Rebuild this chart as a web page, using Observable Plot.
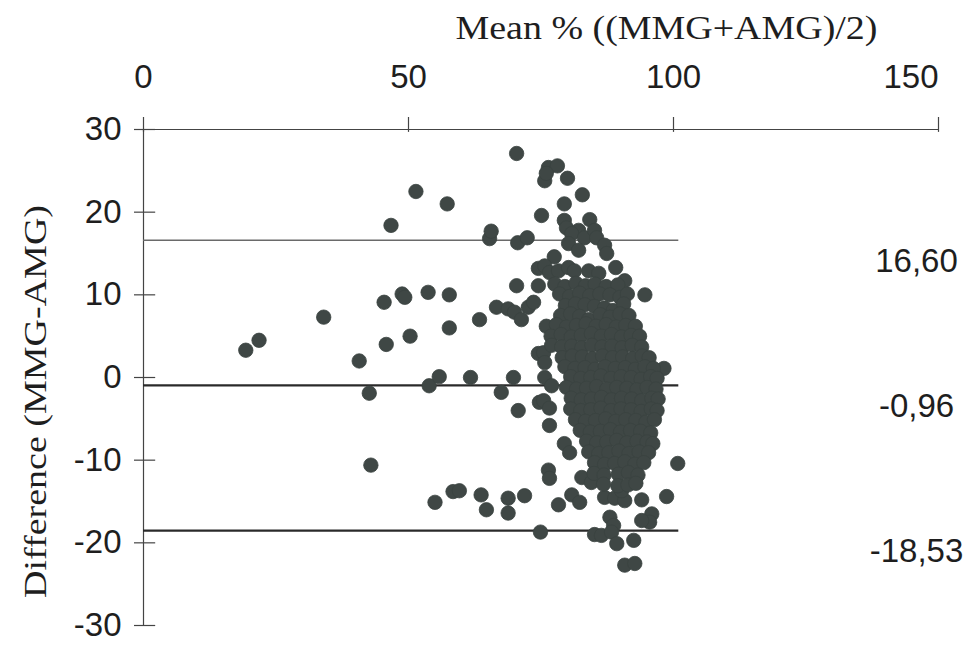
<!DOCTYPE html>
<html>
<head>
<meta charset="utf-8">
<script src="https://cdn.jsdelivr.net/npm/d3@7"></script>
<script src="https://cdn.jsdelivr.net/npm/@observablehq/plot@0.6"></script>
<style>
  html, body { margin: 0; padding: 0; background: #fff; }
  #chart svg { display: block; }
</style>
</head>
<body>
<div id="chart"></div>
<script>
// ---- data ----
const xTitle = "Mean % ((MMG+AMG)/2)";
const yTitle = "Difference (MMG-AMG)";
const xTicks = [0, 50, 100, 150];
const yTicks = [-30, -20, -10, 0, 10, 20, 30];
const upperLimit = [16.60];
const meanAndLower = [-0.96, -18.53];
const limitValues = [16.60, -0.96, -18.53];
const limitLabels = ["16,60", "-0,96", "-18,53"];

// scattered points [mean %, difference]
const scatterPoints = [
  [19.3,3.3],[21.8,4.5],[34.0,7.3],[40.7,2.0],[42.6,-1.9],[42.9,-10.6],[45.4,9.1],[45.8,4.0],
  [46.7,18.4],[48.8,10.1],[49.3,9.7],[50.3,5.0],[51.4,22.5],[53.7,10.3],[53.9,-1.0],[55.0,-15.1],
  [55.8,0.1],[57.3,21.0],[57.7,10.0],[57.7,6.0],[58.4,-13.8],[59.6,-13.7],[61.7,0.0],[63.4,7.0],
  [63.7,-14.2],[64.7,-16.0],[65.3,16.8],[65.6,17.7],[66.6,8.5],[67.5,-1.8],[68.8,8.3],[68.8,-14.6],
  [68.8,-16.4],[69.8,0.0],[70.0,7.9],[70.4,27.1],[70.4,11.1],[70.6,16.3],[70.7,-4.0],[71.3,7.0],
  [71.9,-14.3],[72.4,16.9],[72.6,8.5],[73.6,9.1],[74.5,11.1],[74.5,2.9],[74.7,-3.0],[74.9,-18.7],
  [76.4,25.4],[78.1,25.6],[75.7,23.8],[76.0,24.7],[80.0,24.1],[82.8,22.1],[79.4,21.0],[75.1,19.6],
  [79.4,19.0],[79.8,18.1],[84.2,19.1],[82.1,17.8],[80.8,17.4],[83.2,16.9],[85.1,17.8],[85.5,16.9],
  [80.2,16.2],[82.1,15.4],[87.0,16.0],[87.4,15.0],[77.5,14.6],[89.1,13.3],[74.5,13.2],[75.7,13.5],
  [76.6,12.7],[78.3,12.9],[80.2,13.3],[81.3,12.9],[84.0,12.9],[85.9,12.6],[90.8,11.7],[94.6,10.0],
  [75.5,3.0],[75.7,1.8],[75.7,0.0],[77.0,-1.0],[75.5,-2.8],[76.6,-3.7],[76.6,-5.8],[79.4,-8.0],
  [80.4,-9.1],[76.4,-11.2],[76.6,-12.2],[78.3,-15.4],[80.8,-14.2],[82.3,-15.1],[82.7,-12.1],[84.5,-12.7],
  [87.0,-14.5],[88.9,-14.6],[90.8,-14.9],[90.2,-13.7],[94.0,-14.8],[98.7,-14.4],[100.8,-10.4],[88.0,-16.9],
  [88.7,-17.9],[95.9,-16.5],[95.5,-17.5],[94.0,-17.3],[85.1,-19.0],[86.4,-19.1],[88.3,-18.7],[89.3,-20.1],
  [92.5,-19.7],[90.8,-22.7],[92.7,-22.5],[98.2,1.1]
];

// dense cluster points [mean %, difference]
const clusterPoints = [
  [77.6,11.3],[79.5,11.0],[81.6,11.4],[83.4,11.1],[85.2,11.3],[87.3,11.0],[89.5,11.2],
  [78.5,10.1],[80.4,9.8],[82.3,10.2],[84.2,9.9],[86.1,10.1],[88.0,10.0],[89.9,9.7],[91.3,10.1],
  [79.6,8.7],[81.5,8.9],[83.3,8.8],[85.1,8.6],[87.0,8.4],[88.6,8.1],[90.6,8.9],
  [78.7,7.5],[80.6,7.7],[82.3,7.4],[84.0,7.0],[86.2,7.6],[88.0,7.3],[89.9,7.7],[91.6,7.5],
  [76.0,6.2],[77.9,6.4],[79.8,6.1],[81.7,6.3],[83.5,6.5],[85.4,6.2],[87.3,6.4],[89.2,6.1],[91.0,6.3],[92.8,6.2],
  [76.9,5.0],[78.8,5.2],[80.7,4.9],[82.6,5.1],[84.5,5.3],[86.4,5.0],[88.3,5.2],[90.2,4.9],[92.0,5.1],[93.6,5.0],
  [77.0,3.9],[78.9,3.7],[80.8,3.8],[82.7,3.6],[84.6,3.9],[86.5,3.7],[88.4,3.8],[90.3,3.6],[92.2,3.9],[94.0,3.7],
  [79.0,2.4],[80.9,2.6],[82.8,2.5],[84.7,2.3],[86.6,2.6],[88.5,2.4],[90.4,2.5],[92.3,2.3],[94.1,2.6],[95.4,2.4],
  [79.5,1.3],[81.4,1.1],[83.3,1.2],[85.2,1.0],[87.1,1.3],[89.0,1.1],[90.9,1.2],[92.8,1.0],[94.6,1.3],[96.2,1.1],
  [80.6,0.1],[82.5,-0.1],[84.4,0.0],[86.3,0.2],[88.2,-0.1],[90.1,0.1],[92.0,0.0],[93.9,-0.2],[95.7,0.1],[96.9,-0.1],
  [79.8,-1.2],[81.7,-1.4],[83.6,-1.3],[85.5,-1.1],[87.4,-1.4],[89.3,-1.2],[91.2,-1.3],[93.1,-1.5],[95.0,-1.2],[96.7,-1.4],
  [80.7,-2.5],[82.6,-2.7],[84.5,-2.6],[86.4,-2.4],[88.3,-2.7],[90.2,-2.5],[92.1,-2.6],[94.0,-2.8],[95.9,-2.5],[97.1,-2.6],
  [80.6,-3.8],[82.5,-4.0],[84.4,-3.9],[86.3,-3.7],[88.2,-4.0],[90.1,-3.8],[92.0,-3.9],[93.9,-4.1],[95.8,-3.8],[96.9,-4.0],
  [81.5,-5.1],[83.4,-5.3],[85.3,-5.2],[87.2,-5.0],[89.1,-5.3],[91.0,-5.1],[92.9,-5.2],[94.8,-5.4],[96.4,-5.1],
  [82.4,-6.4],[84.3,-6.6],[86.2,-6.5],[88.1,-6.3],[90.0,-6.6],[91.9,-6.4],[93.8,-6.5],[95.7,-6.7],
  [83.6,-7.7],[85.5,-7.9],[87.4,-7.8],[89.3,-7.6],[91.2,-7.9],[93.1,-7.7],[95.0,-7.8],[96.1,-8.0],
  [84.0,-9.0],[85.9,-9.2],[87.8,-9.1],[89.7,-8.9],[91.6,-9.2],[93.5,-9.0],[95.3,-9.1],
  [85.1,-10.3],[87.0,-10.5],[88.9,-10.4],[90.8,-10.2],[92.7,-10.5],[94.4,-10.3],
  [85.0,-11.6],[86.9,-11.8],[89.6,-11.7],[91.5,-11.5],[93.3,-11.8],
  [86.8,-12.9],[89.5,-13.1],[91.4,-13.0],[92.9,-12.8]
];

const points = scatterPoints.concat(clusterPoints);

// ---- chart ----
const sans = "'Liberation Sans', Arial, sans-serif";
const serif = "'Liberation Serif', 'Times New Roman', serif";
const ink = "#1e1e1e";

const chart = Plot.plot({
  width: 978,
  height: 647,
  marginLeft: 143,
  marginRight: 40,
  marginTop: 129,
  marginBottom: 22,
  style: { background: "#fff", overflow: "visible" },
  x: { domain: [0, 150], axis: null },
  y: { domain: [-30, 30], axis: null },
  marks: [
    // axis lines
    Plot.ruleY([30], { x1: 0, x2: 150, stroke: "#444", strokeWidth: 1.2 }),
    Plot.ruleX([0], { y1: -30, y2: 30, stroke: "#444", strokeWidth: 1.2 }),
    // ticks
    Plot.ruleX(xTicks, { x: d => d, y1: 29.65, y2: 31.45, stroke: "#444", strokeWidth: 1.2 }),
    Plot.ruleY(yTicks, { y: d => d, x1: -1.7, x2: 2.3, stroke: "#444", strokeWidth: 1.2 }),
    // tick labels (last one sits flush with its tick, as in the reference)
    Plot.text(xTicks.slice(0, -1), { x: d => d, text: d => String(d), frameAnchor: "top", lineAnchor: "middle", dy: -52,
      fontSize: 33, fontFamily: sans, fill: ink, textAnchor: "middle" }),
    Plot.text(xTicks.slice(-1), { x: d => d, text: d => String(d), frameAnchor: "top", lineAnchor: "middle", dy: -52,
      fontSize: 33, fontFamily: sans, fill: ink, textAnchor: "end" }),
    Plot.text(yTicks, { y: d => d, text: d => String(d), frameAnchor: "left", lineAnchor: "middle", dx: -22,
      fontSize: 33, fontFamily: sans, fill: ink, textAnchor: "end" }),
    // limit lines
    Plot.ruleY(upperLimit, { x1: 0, x2: 101, stroke: "#6a6a6a", strokeWidth: 1.3 }),
    Plot.ruleY(meanAndLower, { x1: 0, x2: 101, stroke: "#2a2a2a", strokeWidth: 2.2 }),
    // points
    Plot.dot(points, { x: d => d[0], y: d => d[1], r: 7.2, fill: "#3f4745", stroke: "#3a4240", strokeWidth: 0.8 }),
    // limit labels
    Plot.text(limitValues, { y: d => d, text: (d, i) => limitLabels[i], frameAnchor: "right", lineAnchor: "middle",
      dx: -22, dy: 21, fontSize: 33, fontFamily: sans, fill: ink, textAnchor: "middle" }),
    // titles
    Plot.text([xTitle], { text: d => d, frameAnchor: "top", lineAnchor: "middle", dx: 125.5, dy: -101,
      fontSize: 33, fontFamily: serif, fill: ink, textAnchor: "middle" }),
    Plot.text([yTitle], { text: d => d, frameAnchor: "left", lineAnchor: "middle", rotate: -90, dx: -108, dy: 24,
      fontSize: 32, fontFamily: serif, fill: ink, textAnchor: "middle" })
  ]
});

document.getElementById("chart").appendChild(chart);

// stretch the serif titles to match the reference's wide lettering
chart.querySelectorAll("text").forEach(t => {
  if (t.textContent === xTitle) { t.setAttribute("textLength", 422); t.setAttribute("lengthAdjust", "spacingAndGlyphs"); }
  if (t.textContent === yTitle) { t.setAttribute("textLength", 393); t.setAttribute("lengthAdjust", "spacingAndGlyphs"); }
});
</script>
</body>
</html>
